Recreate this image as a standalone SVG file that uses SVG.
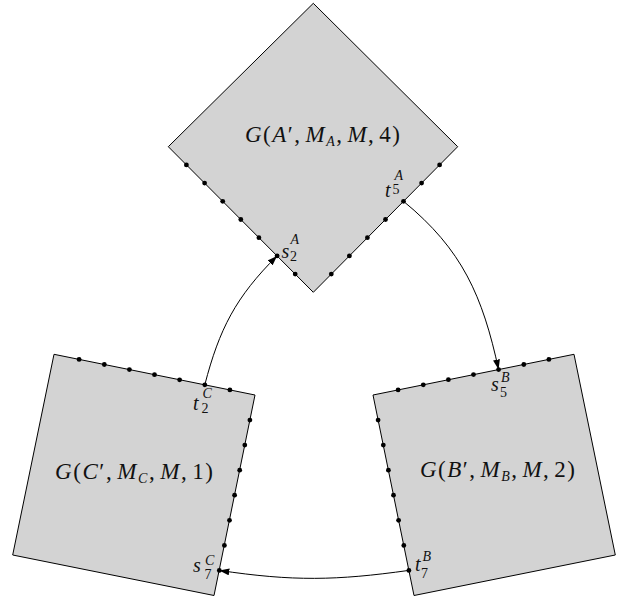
<svg xmlns="http://www.w3.org/2000/svg" width="624" height="599" viewBox="0 0 624 599">
  <style>
    .box { fill: #d3d3d3; stroke: #000; stroke-width: 1; }
    .port { fill: #000; }
    .edge { fill: none; stroke: #000; stroke-width: 1; marker-end: url(#arrow); }
    .lbl { font-family: "Liberation Serif", "Times New Roman", serif; font-size: 23px; fill: #111; }
    .plbl { font-family: "Liberation Serif", "Times New Roman", serif; font-size: 20px; fill: #111; }
    .it { font-style: italic; }
    .sc { font-size: 14px; }
  </style>
  <defs>
    <marker id="arrow" markerUnits="userSpaceOnUse" markerWidth="11" markerHeight="8" refX="10" refY="3.5" orient="auto">
      <path d="M0,0 L10,3.5 L0,7 Z" fill="#000"/>
    </marker>
  </defs>

  <!-- gadget A: square turned 45 degrees -->
  <g id="node-A">
    <polygon class="box" points="313.3,3.3 457.7,146.7 313.3,292.3 168.3,146.7"/>
    <text class="lbl" x="322.5" y="142.3" text-anchor="middle" textLength="155" lengthAdjust="spacing"><tspan class="it">G</tspan>(<tspan class="it">A</tspan>′,<tspan class="it" dx="4">M</tspan><tspan class="it sc" dy="4">A</tspan><tspan dy="-4">,</tspan><tspan class="it" dx="4">M</tspan>,<tspan dx="4">4</tspan>)</text>
    <g class="port">
      <circle cx="186.4" cy="164.9" r="2.4"/>
      <circle cx="204.6" cy="183.1" r="2.4"/>
      <circle cx="222.7" cy="201.3" r="2.4"/>
      <circle cx="240.8" cy="219.5" r="2.4"/>
      <circle cx="258.9" cy="237.7" r="2.4"/>
      <circle cx="277.1" cy="255.9" r="2.4"/>
      <circle cx="295.2" cy="274.1" r="2.4"/>
      <circle cx="439.6" cy="164.9" r="2.4"/>
      <circle cx="421.6" cy="183.1" r="2.4"/>
      <circle cx="403.5" cy="201.3" r="2.4"/>
      <circle cx="385.5" cy="219.5" r="2.4"/>
      <circle cx="367.4" cy="237.7" r="2.4"/>
      <circle cx="349.4" cy="255.9" r="2.4"/>
      <circle cx="331.3" cy="274.1" r="2.4"/>
    </g>
    <text class="plbl"><tspan class="it" x="281.5" y="258">s</tspan><tspan class="it sc" x="290.5" y="244">A</tspan><tspan class="sc" x="290" y="261">2</tspan></text>
    <text class="plbl"><tspan class="it" x="385" y="196.5">t</tspan><tspan class="it sc" x="394.5" y="179.5">A</tspan><tspan class="sc" x="392.5" y="194">5</tspan></text>
  </g>

  <!-- gadget C: lower left -->
  <g id="node-C">
    <polygon class="box" points="54,354.3 255,395 214,595.5 12.7,555"/>
    <text class="lbl" x="134" y="479.3" text-anchor="middle" textLength="158" lengthAdjust="spacing"><tspan class="it">G</tspan>(<tspan class="it">C</tspan>′,<tspan class="it" dx="4">M</tspan><tspan class="it sc" dy="4">C</tspan><tspan dy="-4">,</tspan><tspan class="it" dx="4">M</tspan>,<tspan dx="4">1</tspan>)</text>
    <g class="port">
      <circle cx="79.1" cy="359.4" r="2.4"/>
      <circle cx="104.3" cy="364.5" r="2.4"/>
      <circle cx="129.4" cy="369.6" r="2.4"/>
      <circle cx="154.5" cy="374.7" r="2.4"/>
      <circle cx="179.6" cy="379.8" r="2.4"/>
      <circle cx="204.8" cy="384.8" r="2.4"/>
      <circle cx="229.9" cy="389.9" r="2.4"/>
      <circle cx="249.9" cy="420.1" r="2.4"/>
      <circle cx="244.8" cy="445.1" r="2.4"/>
      <circle cx="239.7" cy="470.2" r="2.4"/>
      <circle cx="234.6" cy="495.2" r="2.4"/>
      <circle cx="229.5" cy="520.3" r="2.4"/>
      <circle cx="224.4" cy="545.4" r="2.4"/>
      <circle cx="219.3" cy="570.4" r="2.4"/>
    </g>
    <text class="plbl"><tspan class="it" x="193" y="410">t</tspan><tspan class="it sc" x="202.5" y="398">C</tspan><tspan class="sc" x="201.5" y="412.5">2</tspan></text>
    <text class="plbl"><tspan class="it" x="193" y="572">s</tspan><tspan class="it sc" x="205" y="565">C</tspan><tspan class="sc" x="204.5" y="579">7</tspan></text>
  </g>

  <!-- gadget B: lower right -->
  <g id="node-B">
    <polygon class="box" points="373,395 574,354.3 615.3,555 414,595.5"/>
    <text class="lbl" x="497.5" y="477.3" text-anchor="middle" textLength="155" lengthAdjust="spacing"><tspan class="it">G</tspan>(<tspan class="it">B</tspan>′,<tspan class="it" dx="4">M</tspan><tspan class="it sc" dy="4">B</tspan><tspan dy="-4">,</tspan><tspan class="it" dx="4">M</tspan>,<tspan dx="4">2</tspan>)</text>
    <g class="port">
      <circle cx="398.1" cy="389.9" r="2.4"/>
      <circle cx="423.3" cy="384.8" r="2.4"/>
      <circle cx="448.4" cy="379.7" r="2.4"/>
      <circle cx="473.5" cy="374.6" r="2.4"/>
      <circle cx="498.6" cy="369.6" r="2.4"/>
      <circle cx="523.8" cy="364.5" r="2.4"/>
      <circle cx="548.9" cy="359.4" r="2.4"/>
      <circle cx="378.1" cy="420.1" r="2.4"/>
      <circle cx="383.3" cy="445.1" r="2.4"/>
      <circle cx="388.4" cy="470.2" r="2.4"/>
      <circle cx="393.5" cy="495.2" r="2.4"/>
      <circle cx="398.6" cy="520.3" r="2.4"/>
      <circle cx="403.8" cy="545.4" r="2.4"/>
      <circle cx="408.9" cy="570.4" r="2.4"/>
    </g>
    <text class="plbl"><tspan class="it" x="491" y="391">s</tspan><tspan class="it sc" x="501" y="382">B</tspan><tspan class="sc" x="500" y="397">5</tspan></text>
    <text class="plbl"><tspan class="it" x="415" y="571">t</tspan><tspan class="it sc" x="422.5" y="561">B</tspan><tspan class="sc" x="421" y="578">7</tspan></text>
  </g>

  <!-- connectors between gadgets -->
  <g id="connectors">
    <path class="edge" d="M403.5,201.3 C462.4,249.5 482.6,296.1 498.6,369.6"/>
    <path class="edge" d="M204.8,384.8 C219.3,329 235.7,297 277.1,255.9"/>
    <path class="edge" d="M408.9,570.4 C335.9,580.6 293.1,581.4 219.3,570.4"/>
  </g>
</svg>
